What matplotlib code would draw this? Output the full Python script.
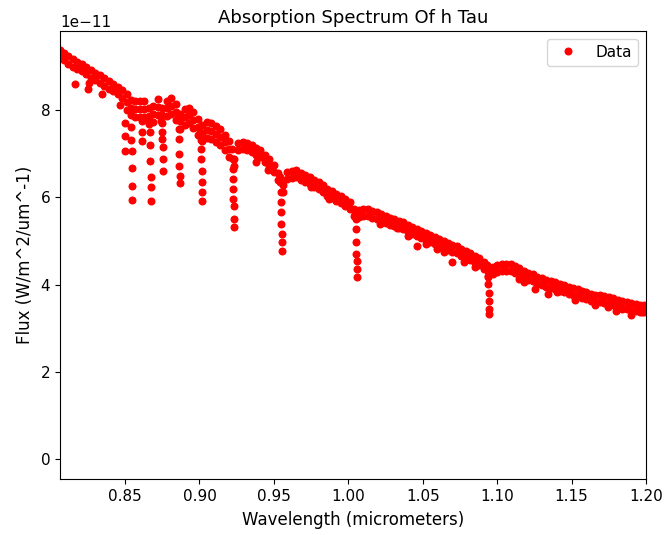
import matplotlib
matplotlib.use('Agg')
import matplotlib.pyplot as plt
import numpy as np

plt.rcParams['font.size'] = 11

SCALE = 1e-11

# continuum band, sampled on a 0.003 um grid (flux in units of 1e-11)
wl = [0.806, 0.809, 0.812, 0.815, 0.818, 0.821, 0.824, 0.827, 0.830, 0.833,
      0.836, 0.839, 0.842, 0.845, 0.848, 0.851, 0.854, 0.857, 0.860, 0.863,
      0.866, 0.869, 0.872, 0.875, 0.878, 0.881, 0.884, 0.887, 0.890, 0.893,
      0.896, 0.899, 0.902, 0.905, 0.908, 0.911, 0.914, 0.917, 0.920, 0.923,
      0.926, 0.929, 0.932, 0.935, 0.938, 0.941, 0.944, 0.947, 0.950, 0.953,
      0.956, 0.959, 0.962, 0.965, 0.968, 0.971, 0.974, 0.977, 0.980, 0.983,
      0.986, 0.989, 0.992, 0.995, 0.998, 1.001, 1.004, 1.007, 1.010, 1.013,
      1.016, 1.019, 1.022, 1.025, 1.028, 1.031, 1.034, 1.037, 1.040, 1.043,
      1.046, 1.049, 1.052, 1.055, 1.058, 1.061, 1.064, 1.067, 1.070, 1.073,
      1.076, 1.079, 1.082, 1.085, 1.088, 1.091, 1.094, 1.097, 1.100, 1.103,
      1.106, 1.109, 1.112, 1.115, 1.118, 1.121, 1.124, 1.127, 1.130, 1.133,
      1.136, 1.139, 1.142, 1.145, 1.148, 1.151, 1.154, 1.157, 1.160, 1.163,
      1.166, 1.169, 1.172, 1.175, 1.178, 1.181, 1.184, 1.187, 1.190, 1.193,
      1.196, 1.199]

flux_top = [9.37, 9.30, 9.22, 9.15, 9.10, 9.05, 8.98, 8.90, 8.85, 8.79,
            8.72, 8.65, 8.59, 8.52, 8.45, 8.35, 8.23, 8.20, 8.19, 8.20,
            8.03, 8.08, 8.24, 8.05, 8.21, 8.27, 8.13, 7.91, 8.01, 8.05,
            7.95, 7.78, 7.65, 7.71, 7.70, 7.63, 7.55, 7.43, 7.28, 6.88,
            7.23, 7.25, 7.23, 7.20, 7.13, 7.07, 6.97, 6.88, 6.73, 6.55,
            6.28, 6.57, 6.60, 6.62, 6.56, 6.50, 6.46, 6.40, 6.35, 6.28,
            6.19, 6.13, 6.07, 6.02, 5.96, 5.89, 5.73, 5.71, 5.73, 5.73,
            5.69, 5.66, 5.61, 5.57, 5.53, 5.49, 5.46, 5.42, 5.37, 5.32,
            5.28, 5.23, 5.18, 5.13, 5.09, 5.04, 5.00, 4.96, 4.91, 4.87,
            4.82, 4.77, 4.71, 4.65, 4.60, 4.51, 4.33, 4.41, 4.44, 4.46,
            4.47, 4.46, 4.42, 4.37, 4.32, 4.27, 4.23, 4.18, 4.14, 4.10,
            4.08, 4.05, 4.01, 3.98, 3.94, 3.91, 3.89, 3.86, 3.82, 3.79,
            3.77, 3.75, 3.73, 3.71, 3.68, 3.65, 3.62, 3.59, 3.57, 3.55,
            3.54, 3.52]

flux_bottom = [9.20, 9.13, 9.05, 8.98, 8.93, 8.88, 8.81, 8.73, 8.68, 8.62,
               8.55, 8.48, 8.42, 8.35, 8.26, 7.99, 7.87, 7.84, 7.83, 7.84,
               7.67, 7.72, 7.88, 7.69, 7.85, 7.91, 7.77, 7.55, 7.65, 7.69,
               7.59, 7.42, 7.29, 7.35, 7.34, 7.27, 7.19, 7.07, 6.92, 6.72,
               7.07, 7.09, 7.07, 7.04, 6.97, 6.91, 6.81, 6.72, 6.57, 6.39,
               6.12, 6.41, 6.44, 6.46, 6.40, 6.34, 6.30, 6.24, 6.19, 6.12,
               6.03, 5.97, 5.91, 5.86, 5.80, 5.73, 5.57, 5.55, 5.57, 5.57,
               5.53, 5.50, 5.45, 5.41, 5.37, 5.33, 5.30, 5.26, 5.21, 5.16,
               5.12, 5.07, 5.02, 4.97, 4.93, 4.88, 4.84, 4.80, 4.75, 4.71,
               4.66, 4.61, 4.55, 4.49, 4.44, 4.35, 4.17, 4.25, 4.28, 4.30,
               4.31, 4.30, 4.26, 4.21, 4.16, 4.11, 4.07, 4.02, 3.98, 3.94,
               3.92, 3.89, 3.85, 3.82, 3.78, 3.75, 3.73, 3.70, 3.66, 3.63,
               3.61, 3.59, 3.57, 3.55, 3.52, 3.49, 3.46, 3.43, 3.41, 3.39,
               3.38, 3.36]

# extra band points where the band is thick (0.85-0.92 um)
mid_wl = [0.851, 0.854, 0.857, 0.860, 0.863, 0.866, 0.869, 0.872, 0.875, 0.878,
          0.881, 0.884, 0.887, 0.890, 0.893, 0.896, 0.899, 0.902, 0.905, 0.908,
          0.911, 0.914, 0.917, 0.920]
mid_flux = [8.17, 8.05, 8.02, 8.01, 8.02, 7.85, 7.90, 8.06, 7.87, 8.03,
            8.09, 7.95, 7.73, 7.83, 7.87, 7.77, 7.60, 7.47, 7.53, 7.52,
            7.45, 7.37, 7.25, 7.10]

# absorption line cores (Ca II triplet + Paschen series)
line_wl = [0.8500, 0.8500, 0.8500,
           0.8540, 0.8540, 0.8547, 0.8547, 0.8547, 0.8547,
           0.8614, 0.8614, 0.8614,
           0.8661, 0.8668, 0.8668, 0.8668, 0.8674, 0.8674, 0.8674,
           0.8741, 0.8748, 0.8748, 0.8755, 0.8755, 0.8755,
           0.8856, 0.8862, 0.8862, 0.8862, 0.8862, 0.8869, 0.8869,
           0.9003, 0.9010, 0.9010, 0.9010, 0.9017, 0.9017, 0.9017, 0.9017,
           0.9218, 0.9225, 0.9225, 0.9225, 0.9225, 0.9225, 0.9232, 0.9232, 0.9232,
           0.9541, 0.9541, 0.9548, 0.9548, 0.9548, 0.9548, 0.9554, 0.9554, 0.9554,
           1.0045, 1.0051, 1.0051, 1.0051, 1.0051, 1.0058, 1.0058, 1.0058,
           1.0931, 1.0938, 1.0938, 1.0938, 1.0945, 1.0945, 1.0945, 1.0945]
line_flux = [7.70, 7.40, 7.05,
             7.60, 7.30, 7.05, 6.66, 6.25, 5.93,
             7.75, 7.50, 7.28,
             7.75, 7.49, 7.20, 6.83, 6.46, 6.23, 5.91,
             7.75, 7.50, 7.33, 7.15, 6.87, 6.60,
             7.80, 7.56, 7.33, 6.99, 6.71, 6.48, 6.32,
             7.50, 7.30, 7.10, 6.87, 6.60, 6.35, 6.12, 5.91,
             7.10, 6.87, 6.64, 6.41, 6.18, 5.96, 5.79, 5.50, 5.31,
             6.45, 6.34, 6.12, 5.89, 5.66, 5.38, 5.15, 4.97, 4.76,
             5.65, 5.50, 5.27, 4.97, 4.70, 4.54, 4.35, 4.17,
             4.45, 4.30, 4.19, 4.01, 3.80, 3.62, 3.45, 3.32]

# weaker features poking below the band
dip_wl = [0.8164, 0.8251, 0.8255, 0.8345, 0.8466, 0.9380, 0.9460, 0.9750,
          0.9870, 1.0210, 1.0327, 1.0400, 1.0461, 1.0520, 1.0596, 1.0640,
          1.0697, 1.0780, 1.0850, 1.1150, 1.1180, 1.1254, 1.1341, 1.1400,
          1.1520, 1.1603, 1.1660, 1.1744, 1.1800, 1.1838, 1.1900, 1.1972]
dip_flux = [8.59, 8.47, 8.60, 8.36, 8.10, 6.80, 6.62, 6.22,
            5.95, 5.38, 5.30, 5.12, 4.88, 4.92, 4.81, 4.75,
            4.51, 4.52, 4.40, 4.12, 4.05, 3.90, 3.78, 3.83,
            3.65, 3.71, 3.52, 3.48, 3.40, 3.43, 3.30, 3.36]

x = np.concatenate([wl, wl, mid_wl, line_wl, dip_wl])
y = np.concatenate([flux_top, flux_bottom, mid_flux, line_flux, dip_flux]) * SCALE

fig = plt.figure(figsize=(6.65, 5.35), dpi=100)
ax = fig.add_axes([0.0902, 0.1047, 0.8812, 0.8373])
ax.plot(x, y, 'r.', markersize=9.5, label='Data')

ax.set_xlim(0.8063, 1.2)
ax.set_ylim(-0.45e-11, 9.8e-11)
ax.set_title("Absorption Spectrum Of h Tau", fontsize=13)
ax.set_xlabel("Wavelength (micrometers)", fontsize=12, labelpad=5)
ax.set_ylabel("Flux (W/m^2/um^-1)", fontsize=12, labelpad=5)
ax.legend(loc='upper right')

fig.savefig("out.png", dpi=100)
